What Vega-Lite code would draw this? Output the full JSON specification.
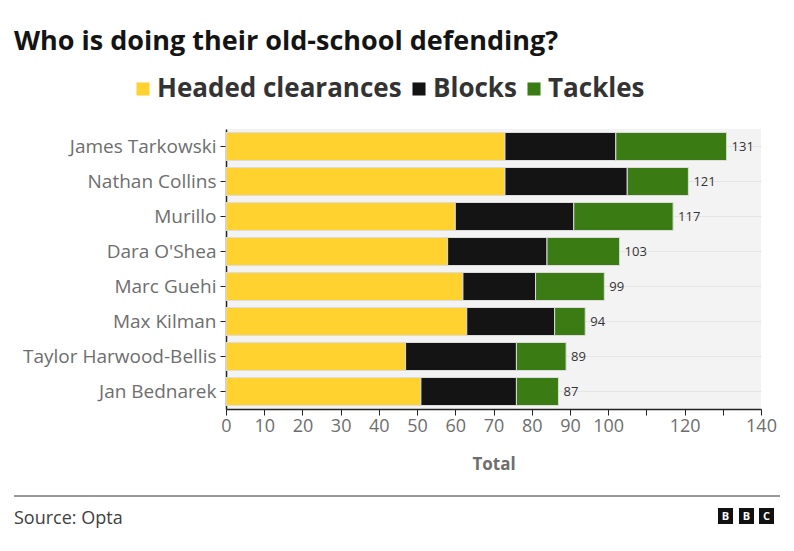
{
  "$schema": "https://vega.github.io/schema/vega-lite/v6.json",
  "autosize": {"type": "none"},
  "padding": {"left": 226, "top": 129, "right": 33, "bottom": 142},
  "width": 535,
  "height": 280,
  "background": "white",
  "config": {
    "font": "Open Sans",
    "view": {"fill": "#f3f3f3", "stroke": null}
  },
  "title": {
    "text": "Who is doing their old-school defending?",
    "anchor": "start",
    "frame": "group",
    "dx": -212,
    "offset": 20,
    "fontSize": 27,
    "fontWeight": "bold",
    "font": "Open Sans",
    "color": "#141414"
  },
  "datasets": {
    "stats": [
      {"player": "James Tarkowski", "category": "Headed clearances", "value": 73},
      {"player": "James Tarkowski", "category": "Blocks", "value": 29},
      {"player": "James Tarkowski", "category": "Tackles", "value": 29},
      {"player": "Nathan Collins", "category": "Headed clearances", "value": 73},
      {"player": "Nathan Collins", "category": "Blocks", "value": 32},
      {"player": "Nathan Collins", "category": "Tackles", "value": 16},
      {"player": "Murillo", "category": "Headed clearances", "value": 60},
      {"player": "Murillo", "category": "Blocks", "value": 31},
      {"player": "Murillo", "category": "Tackles", "value": 26},
      {"player": "Dara O'Shea", "category": "Headed clearances", "value": 58},
      {"player": "Dara O'Shea", "category": "Blocks", "value": 26},
      {"player": "Dara O'Shea", "category": "Tackles", "value": 19},
      {"player": "Marc Guehi", "category": "Headed clearances", "value": 62},
      {"player": "Marc Guehi", "category": "Blocks", "value": 19},
      {"player": "Marc Guehi", "category": "Tackles", "value": 18},
      {"player": "Max Kilman", "category": "Headed clearances", "value": 63},
      {"player": "Max Kilman", "category": "Blocks", "value": 23},
      {"player": "Max Kilman", "category": "Tackles", "value": 8},
      {"player": "Taylor Harwood-Bellis", "category": "Headed clearances", "value": 47},
      {"player": "Taylor Harwood-Bellis", "category": "Blocks", "value": 29},
      {"player": "Taylor Harwood-Bellis", "category": "Tackles", "value": 13},
      {"player": "Jan Bednarek", "category": "Headed clearances", "value": 51},
      {"player": "Jan Bednarek", "category": "Blocks", "value": 25},
      {"player": "Jan Bednarek", "category": "Tackles", "value": 11}
    ]
  },
  "layer": [
    {
      "data": {"name": "stats"},
      "encoding": {
        "y": {
          "field": "player",
          "type": "nominal",
          "sort": ["James Tarkowski", "Nathan Collins", "Murillo", "Dara O'Shea", "Marc Guehi", "Max Kilman", "Taylor Harwood-Bellis", "Jan Bednarek"],
          "scale": {"paddingInner": 0.2, "paddingOuter": 0.1},
          "axis": {
            "title": null,
            "labelFontSize": 19,
            "labelColor": "#6e6e6e",
            "labelFont": "Open Sans",
            "labelPadding": 4,
            "labelLimit": 300,
            "tickColor": "#222",
            "tickSize": 6,
            "domainColor": "#222",
            "domainWidth": 1.5,
            "grid": true,
            "gridColor": "#e6e6e6"
          }
        },
        "x": {
          "aggregate": "sum",
          "field": "value",
          "type": "quantitative",
          "scale": {"domain": [0, 140], "nice": false},
          "axis": {
            "title": "Total",
            "values": [0, 10, 20, 30, 40, 50, 60, 70, 80, 90, 100, 110, 120, 130, 140],
            "labelExpr": "datum.value == 110 || datum.value == 130 ? '' : datum.label",
            "labelFlush": false,
            "labelOverlap": false,
            "labelFontSize": 18,
            "labelFont": "Open Sans",
            "labelColor": "#6e6e6e",
            "labelPadding": 2,
            "tickColor": "#222",
            "tickSize": 6,
            "domainColor": "#222",
            "domainWidth": 1.5,
            "grid": false,
            "titleFontSize": 17,
            "titleFont": "Open Sans",
            "titleFontWeight": "bold",
            "titleColor": "#6e6e6e",
            "titlePadding": 21
          }
        }
      },
      "layer": [
        {
          "transform": [
            {"calculate": "indexof(['Headed clearances','Blocks','Tackles'], datum.category)", "as": "stackOrder"}
          ],
          "mark": {"type": "bar", "stroke": "#dcdcdc", "strokeWidth": 1},
          "encoding": {
            "color": {
              "field": "category",
              "type": "nominal",
              "scale": {
                "domain": ["Headed clearances", "Blocks", "Tackles"],
                "range": ["#FFD230", "#141414", "#3A7B14"]
              },
              "legend": {
                "title": null,
                "orient": "none",
                "direction": "horizontal",
                "legendX": -96,
                "legendY": -53,
                "symbolType": "square",
                "symbolSize": 170,
                "symbolStrokeWidth": 0,
                "labelFont": "Open Sans",
                "labelFontSize": 26,
                "labelFontWeight": "bold",
                "labelColor": "#333333",
                "labelOffset": 1,
                "columnPadding": 4,
                "labelLimit": 400
              }
            },
            "order": {"field": "stackOrder", "type": "quantitative"}
          }
        },
        {
          "mark": {"type": "text", "align": "left", "baseline": "middle", "dx": 5, "fontSize": 13, "font": "Open Sans", "color": "#333333"},
          "encoding": {
            "text": {"aggregate": "sum", "field": "value", "type": "quantitative"}
          }
        }
      ]
    },
    {
      "data": {"values": [{"source": "Source: Opta"}]},
      "mark": {"type": "rule", "color": "#333333", "strokeWidth": 1, "clip": false},
      "encoding": {
        "x": {"value": -212},
        "x2": {"value": 554},
        "y": {"value": 367}
      }
    },
    {
      "data": {"values": [{"source": "Source: Opta"}]},
      "mark": {"type": "text", "align": "left", "baseline": "middle", "fontSize": 18, "font": "Open Sans", "color": "#404040", "clip": false},
      "encoding": {
        "x": {"value": -212},
        "y": {"value": 390},
        "text": {"field": "source"}
      }
    },
    {
      "data": {"values": [{"letter": "B"}]},
      "layer": [
        {"mark": {"type": "rect", "color": "#111111"}, "encoding": {"x": {"value": 492}, "x2": {"value": 507}, "y": {"value": 379}, "y2": {"value": 395}}},
        {"mark": {"type": "text", "color": "white", "fontWeight": "bold", "fontSize": 11, "align": "center", "baseline": "middle"}, "encoding": {"x": {"value": 499.5}, "y": {"value": 387.5}, "text": {"field": "letter"}}}
      ]
    },
    {
      "data": {"values": [{"letter": "B"}]},
      "layer": [
        {"mark": {"type": "rect", "color": "#111111"}, "encoding": {"x": {"value": 513}, "x2": {"value": 528}, "y": {"value": 379}, "y2": {"value": 395}}},
        {"mark": {"type": "text", "color": "white", "fontWeight": "bold", "fontSize": 11, "align": "center", "baseline": "middle"}, "encoding": {"x": {"value": 520.5}, "y": {"value": 387.5}, "text": {"field": "letter"}}}
      ]
    },
    {
      "data": {"values": [{"letter": "C"}]},
      "layer": [
        {"mark": {"type": "rect", "color": "#111111"}, "encoding": {"x": {"value": 533}, "x2": {"value": 548}, "y": {"value": 379}, "y2": {"value": 395}}},
        {"mark": {"type": "text", "color": "white", "fontWeight": "bold", "fontSize": 11, "align": "center", "baseline": "middle"}, "encoding": {"x": {"value": 540.5}, "y": {"value": 387.5}, "text": {"field": "letter"}}}
      ]
    }
  ]
}
